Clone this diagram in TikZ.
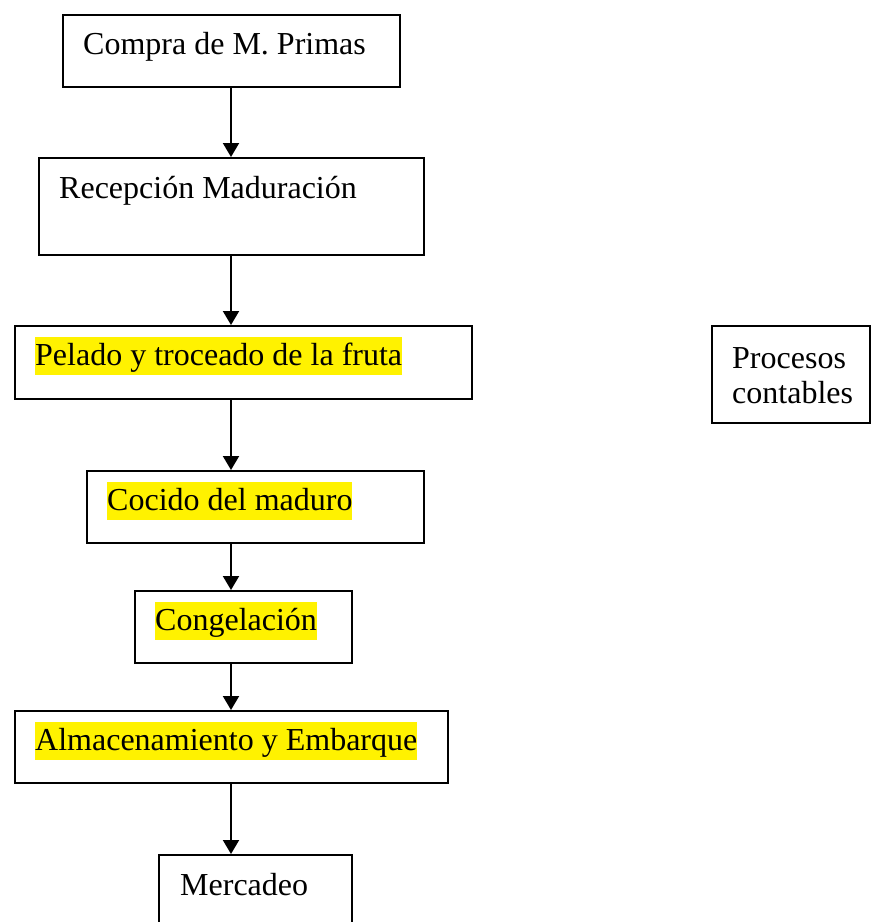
\documentclass[tikz,border=0pt]{standalone}
\usepackage{fontspec}
\setmainfont{Liberation Serif}
\usetikzlibrary{arrows.meta}
\tikzset{
  box/.style={draw, line width=2pt, anchor=north west, inner sep=0pt},
  lbl/.style={anchor=base west, inner sep=0pt, font=\fontsize{32}{35}\selectfont},
  hl/.style={lbl, fill=yellow, text height=28.5pt, text depth=9.5pt},
  flow/.style={line width=2pt, -{Triangle[length=14pt,width=16pt]}}
}
\begin{document}
\begin{tikzpicture}[x=1pt,y=-1pt]
\clip (0,0) rectangle (871,922);
\fill[white] (0,0) rectangle (871,922);
% boxes
\node[box, minimum width=337pt, minimum height=72pt] (b1) at (62,14) {};
\node[box, minimum width=385pt, minimum height=97pt] (b2) at (38,157) {};
\node[box, minimum width=457pt, minimum height=73pt] (b3) at (14,325) {};
\node[box, minimum width=158pt, minimum height=97pt] (b4) at (711,325) {};
\node[box, minimum width=337pt, minimum height=72pt] (b5) at (86,470) {};
\node[box, minimum width=217pt, minimum height=72pt] (b6) at (134,590) {};
\node[box, minimum width=433pt, minimum height=72pt] (b7) at (14,710) {};
\node[box, minimum width=193pt, minimum height=80pt] (b8) at (158,854) {};
% texts
\node[lbl] (t1) at (83,54) {Compra de M. Primas};
\node[lbl] (t2) at (59,198) {Recepción Maduración};
\node[hl] (t3) at (35,365) {Pelado y troceado de la fruta};
\node[lbl] (t4a) at (732,368) {Procesos};
\node[lbl] (t4b) at (732,403) {contables};
\node[hl] (t5) at (107,510) {Cocido del maduro};
\node[hl] (t6) at (155,630) {Congelación};
\node[hl] (t7) at (35,750) {Almacenamiento y Embarque};
\node[lbl] (t8) at (180,895) {Mercadeo};
% arrows
\coordinate (ax) at (231,0);
\draw[flow] (b1.south -| ax) -- (b2.north -| ax);
\draw[flow] (b2.south -| ax) -- (b3.north -| ax);
\draw[flow] (b3.south -| ax) -- (b5.north -| ax);
\draw[flow] (b5.south -| ax) -- (b6.north -| ax);
\draw[flow] (b6.south -| ax) -- (b7.north -| ax);
\draw[flow] (b7.south -| ax) -- (b8.north -| ax);
\end{tikzpicture}
\end{document}
